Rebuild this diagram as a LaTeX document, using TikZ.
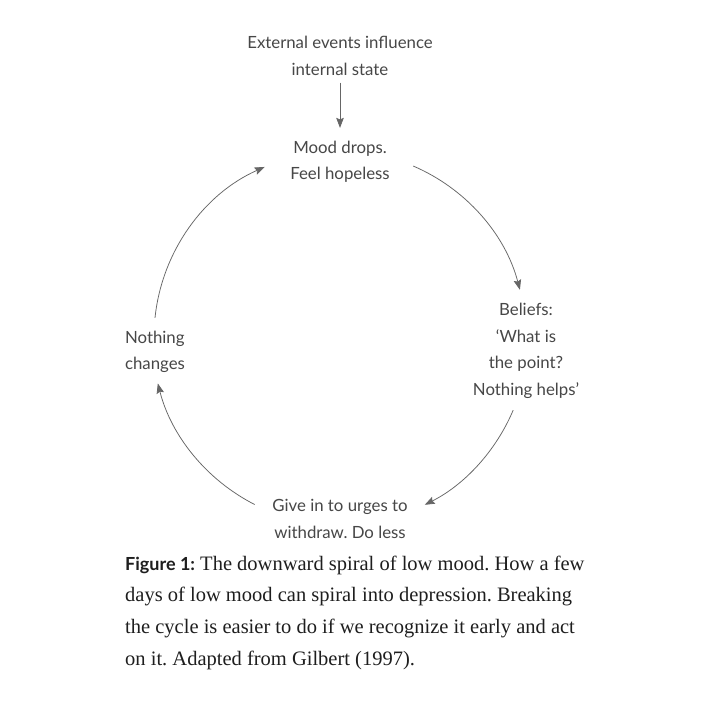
\documentclass[tikz,border=0pt]{standalone}
\usepackage{fontspec}
\setmainfont{Liberation Serif}
\newfontfamily\labelfont{Lato}
\usetikzlibrary{arrows.meta,calc}
\definecolor{labgray}{HTML}{474747}
\definecolor{capblack}{HTML}{1E1E1E}
\definecolor{arrgray}{HTML}{666666}
\frenchspacing
\begin{document}
\begin{tikzpicture}[x=1pt,y=-1pt,
  lab/.style={font=\labelfont\fontsize{16.8}{26.5}\selectfont, text=labgray, align=center, inner sep=0pt},
  capline/.style={font=\fontsize{20.5}{31}\selectfont, text=capblack, anchor=base west, inner sep=0pt},
  conn/.style={draw=arrgray, line width=0.75pt, -{Stealth[length=10pt,width=7.5pt,inset=1.5pt]}}]
\useasboundingbox (0,0) rectangle (703,703);
\fill[white] (0,0) rectangle (703,703);
\coordinate (O) at (340,337);
\node[lab] (ext) at (340,56) {External events influence\\internal state};
\node[lab] (mood) at (340,162) {Mood drops.\\Feel hopeless};
\node[lab] (bel) at (526,351) {Beliefs:\\‘What is\\the point?\\Nothing helps’};
\node[lab,align=left] (noth) at (155,352) {Nothing\\changes};
\node[lab] (give) at (340,519) {Give in to urges to\\withdraw. Do less};
\coordinate (e1) at ([yshift=-7]ext.south);
\coordinate (e2) at ([yshift=13]mood.north);
\draw[conn] (e1) -- (e2);
\coordinate (a1) at ([shift={(-66.8:186)}]O);
\coordinate (a2) at ([shift={(22.9:188)}]O);
\coordinate (a3) at ([shift={(117:188)}]O);
\coordinate (a4) at ([shift={(185.9:186)}]O);
\draw[conn] (a1) arc[start angle=-66.8, end angle=-14.7, radius=186];
\draw[conn] (a2) arc[start angle=22.9, end angle=63.2, radius=188];
\draw[conn] (a3) arc[start angle=117, end angle=165.7, radius=188];
\draw[conn] (a4) arc[start angle=185.9, end angle=246.1, radius=186];
\node[capline] (c1) at (125,570) {{\labelfont\fontsize{18}{31}\selectfont\bfseries Figure 1:} The downward spiral of low mood. How a few};
\node[capline] (c2) at (125,601) {days of low mood can spiral into depression. Breaking};
\node[capline] (c3) at (125,633) {the cycle is easier to do if we recognize it early and act};
\node[capline] (c4) at (125,665) {on it. Adapted from Gilbert (1997).};
\end{tikzpicture}
\end{document}
